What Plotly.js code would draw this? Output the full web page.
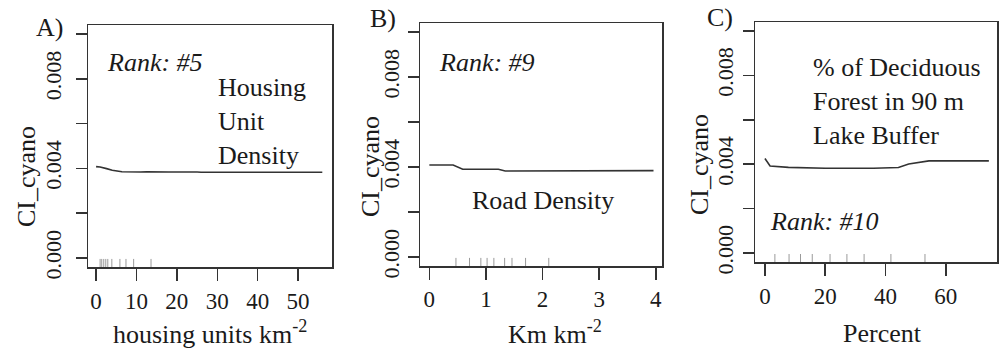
<!DOCTYPE html>
<html>
<head>
<meta charset="utf-8">
<script src="https://cdn.plot.ly/plotly-3.0.1.min.js"></script>
<style>html,body{margin:0;padding:0;background:#fff}#chart{width:1001px;height:350px}</style>
</head>
<body>
<div id="chart"></div>
<script>
// ---- Data ----
// Panel A: housing unit density
const xA = [0, 1, 2.6, 4, 6.4, 8, 10, 11, 12.5, 14, 18, 25, 26, 40, 56];
const yA = [0.00408, 0.00406, 0.00399, 0.00392, 0.00385, 0.00384, 0.00385, 0.00384, 0.00385, 0.00384, 0.00384, 0.00384, 0.00383, 0.00383, 0.00383];
const rugA = [1.0, 1.4, 1.9, 2.4, 2.9, 3.9, 5.9, 7.4, 9.3, 13.6];

// Panel B: road density
const xB = [0, 0.42, 0.59, 1.22, 1.34, 1.58, 1.62, 1.75, 1.78, 3.05, 3.07, 3.96];
const yB = [0.00409, 0.00409, 0.00390, 0.00390, 0.00382, 0.00382, 0.00385, 0.00385, 0.00382, 0.00382, 0.00384, 0.00384];
const rugB = [0.47, 0.71, 0.91, 1.02, 1.14, 1.33, 1.46, 1.70, 2.11];

// Panel C: % deciduous forest in 90 m lake buffer
const xC = [0, 1.7, 7.8, 20, 36, 44.3, 47.7, 54.4, 74.3];
const yC = [0.00426, 0.00392, 0.00386, 0.00382, 0.00382, 0.00385, 0.00401, 0.00415, 0.00415];
const rugC = [3.3, 8.0, 11.8, 15.7, 21.6, 27.2, 32.9, 41.8, 53.1];

// Tick labels
const yTickVals = [0, 0.004, 0.008];
const yTickText = ["0.000", "0.004", "0.008"];
const yMinorStep = 0.002;
const xTickA = [0, 10, 20, 30, 40, 50];
const xTickB = [0, 1, 2, 3, 4];
const xTickC = [0, 20, 40, 60];

// Texts
const panelLabels = ["A)", "B)", "C)"];
const xTitles = ["housing units km<sup>-2</sup>", "Km km<sup>-2</sup>", "Percent"];
const yTitle = "CI_cyano";
const rankTexts = ["Rank: #5", "Rank: #9", "Rank: #10"];
const varTexts = ["Housing<br>Unit<br>Density", "Road Density", "% of Deciduous<br>Forest in 90 m<br>Lake Buffer"];

// ---- Drawing ----
const W = 1001, H = 350;
const FONT = "'Liberation Serif', 'Times New Roman', Times, serif";
const TXT = "#1a1a1a";
const LINE = "#333333";
const px = v => v / W;
const py = v => 1 - v / H;

function rug(vals, lo, hi) {
  const xs = [], ys = [];
  vals.forEach(v => { xs.push(v, v, null); ys.push(lo, hi, null); });
  return {xs, ys};
}

const yRange = [-0.0004, 0.0104];
const rA = rug(rugA, yRange[0], -0.00004);
const rB = rug(rugB, yRange[0], -0.00004);
const rC = rug(rugC, yRange[0], -0.00004);

const traces = [
  {x: rA.xs, y: rA.ys, xaxis: 'x', yaxis: 'y', mode: 'lines', line: {color: '#9a9a9a', width: 1}, hoverinfo: 'skip'},
  {x: rB.xs, y: rB.ys, xaxis: 'x2', yaxis: 'y2', mode: 'lines', line: {color: '#9a9a9a', width: 1}, hoverinfo: 'skip'},
  {x: rC.xs, y: rC.ys, xaxis: 'x3', yaxis: 'y3', mode: 'lines', line: {color: '#9a9a9a', width: 1}, hoverinfo: 'skip'},
  {x: xA, y: yA, xaxis: 'x', yaxis: 'y', mode: 'lines', line: {color: LINE, width: 1.6}},
  {x: xB, y: yB, xaxis: 'x2', yaxis: 'y2', mode: 'lines', line: {color: LINE, width: 1.6}},
  {x: xC, y: yC, xaxis: 'x3', yaxis: 'y3', mode: 'lines', line: {color: LINE, width: 1.6}}
];

function xax(domain, range, ticks, anchor, standoff) {
  return {
    domain: domain, range: range, anchor: anchor,
    tickmode: 'array', tickvals: ticks, ticktext: ticks.map(String),
    ticks: 'outside', ticklen: 12, tickwidth: 1.5, tickcolor: LINE,
    showline: true, mirror: true, linecolor: LINE, linewidth: 1.5,
    showgrid: false, zeroline: false,
    ticklabelstandoff: standoff,
    tickfont: {family: FONT, size: 23, color: TXT}
  };
}
function yax(domain, anchor, standoff) {
  return {
    domain: domain, range: yRange, anchor: anchor,
    tickmode: 'array', tickvals: yTickVals, ticktext: yTickText,
    tickangle: -90,
    ticks: 'outside', ticklen: 11, tickwidth: 1.5, tickcolor: LINE,
    minor: {tickmode: 'linear', tick0: 0, dtick: yMinorStep, ticks: 'outside', ticklen: 11, tickwidth: 1.5, tickcolor: LINE, showgrid: false},
    showline: true, mirror: true, linecolor: LINE, linewidth: 1.5,
    showgrid: false, zeroline: false,
    ticklabelstandoff: standoff,
    tickfont: {family: FONT, size: 22, color: TXT}
  };
}

const ann = [];
function txt(text, x, y, opts) {
  ann.push(Object.assign({
    text: text, xref: 'paper', yref: 'paper', x: px(x), y: py(y),
    showarrow: false, font: {family: FONT, size: 25, color: TXT},
    xanchor: 'center', yanchor: 'middle'
  }, opts || {}));
}
const big = {family: FONT, size: 26, color: TXT};
const mid = {family: FONT, size: 26, color: TXT};
const ital = {family: FONT, size: 26, color: TXT, style: 'italic'};
// panel labels
txt(panelLabels[0], 49, 27, {font: big});
txt(panelLabels[1], 383, 19, {font: big});
txt(panelLabels[2], 720, 17, {font: big});
// y titles
txt(yTitle, 27, 177, {textangle: -90, font: big});
txt(yTitle, 371, 167, {textangle: -90, font: big});
txt(yTitle, 699, 165, {textangle: -90, font: big});
// x titles
txt(xTitles[0], 210, 332, {font: big});
txt(xTitles[1], 555, 332, {font: big});
txt(xTitles[2], 882, 333, {font: big});
// rank texts
txt(rankTexts[0], 105, 62, {xanchor: 'left', font: ital});
txt(rankTexts[1], 437, 62, {xanchor: 'left', font: ital});
txt(rankTexts[2], 768, 222, {xanchor: 'left', font: ital});
// variable descriptions
txt(varTexts[0], 216, 122, {xanchor: 'left', align: 'left', font: mid});
txt(varTexts[1], 543, 200, {font: mid});
txt(varTexts[2], 811, 101, {xanchor: 'left', align: 'left', font: mid});

const layout = {
  width: W, height: H,
  margin: {l: 0, r: 0, t: 0, b: 0},
  font: {family: FONT, color: TXT},
  paper_bgcolor: '#fff', plot_bgcolor: '#fff',
  showlegend: false,
  xaxis: xax([px(88), px(332)], [-2, 58.4], xTickA, 'y', 1),
  yaxis: yax([1 - 267 / H, 1 - 25 / H], 'x', 6),
  xaxis2: xax([px(420), px(662)], [-0.165, 4.11], xTickB, 'y2', 0),
  yaxis2: yax([1 - 266 / H, 1 - 23 / H], 'x2', 0),
  xaxis3: xax([px(755), px(997)], [-3.3, 77], xTickC, 'y3', 1),
  yaxis3: yax([1 - 262 / H, 1 - 22 / H], 'x3', 1),
  annotations: ann
};

Plotly.newPlot('chart', traces, layout, {staticPlot: true, displayModeBar: false});
</script>
</body>
</html>
